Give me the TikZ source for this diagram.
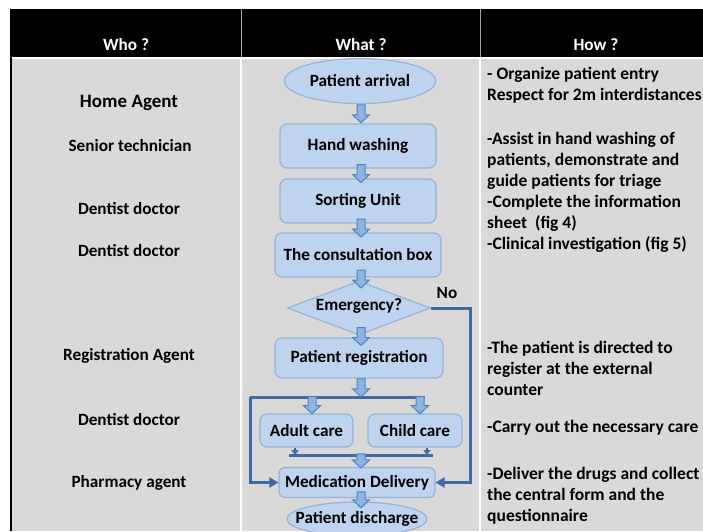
\documentclass[tikz,border=0pt]{standalone}
\usepackage{fontspec}
\setmainfont{Carlito}
\usetikzlibrary{shapes.geometric,arrows.meta,calc}
\definecolor{bodygray}{HTML}{D9D9D9}
\definecolor{boxfill}{HTML}{BDD3EE}
\definecolor{boxline}{HTML}{95B3D7}
\definecolor{flowline}{HTML}{3F6AA3}
\definecolor{arrfill}{HTML}{8EB4E3}
\definecolor{arrline}{HTML}{4F81BD}
\tikzset{
  txt/.style={font=\fontsize{17.2}{21}\selectfont\bfseries, inner sep=0pt},
  headtxt/.style={txt, text=white},
  whotxt/.style={txt, anchor=center},
  howtxt/.style={txt, font=\fontsize{17.5}{21}\selectfont\bfseries, anchor=base west, align=left},
  stepbox/.style={draw=boxline, fill=boxfill, line width=1.2pt, rounded corners=7pt,
    txt, inner sep=0pt},
  ovalbox/.style={ellipse, draw=boxline, fill=boxfill, line width=1.2pt, inner sep=0pt},
  decbox/.style={diamond, draw=boxline, fill=boxfill, line width=1.2pt, inner sep=0pt},
  blockdown/.style={draw=arrline, fill=arrfill, line width=1pt, line join=miter,
    to path={let \p1=($(\tikztostart)!0.5!(\tikztotarget)$) in
      (\x1-4pt,{\y1+0.5*#1}) -- (\x1+4pt,{\y1+0.5*#1}) -- (\x1+4pt,{\y1-0.5*#1+8pt})
      -- (\x1+8.5pt,{\y1-0.5*#1+8pt}) -- (\x1,{\y1-0.5*#1}) -- (\x1-8.5pt,{\y1-0.5*#1+8pt})
      -- (\x1-4pt,{\y1-0.5*#1+8pt}) -- cycle}},
  blockdown/.default=18pt,
  flow/.style={draw=flowline, line width=3pt},
  flowarrow/.style={flow, -{Triangle[length=9pt,width=10pt]}},
  smallarrow/.style={draw=flowline, line width=2pt, -{Triangle[length=5pt,width=7pt]}}
}
\begin{document}
\begin{tikzpicture}[x=1pt,y=-1pt]
\useasboundingbox (0,0) rectangle (703,531);
% table background
\fill[white] (0,0) rectangle (703,531);
\fill[black] (10,9) rectangle (703,57);
\fill[bodygray] (12,59) rectangle (703,531);
\fill[black] (10,9) rectangle (12,531);
\fill[white] (240,59) rectangle (242,531);
\fill[white] (479,59) rectangle (481,531);
\draw[gray!70, line width=1pt] (241,9) -- (241,57);
\draw[gray!70, line width=1pt] (480,9) -- (480,57);
% header
\node[headtxt] (hwho) at (126,45) {Who ?};
\node[headtxt] (hwhat) at (361,45) {What ?};
\node[headtxt] (hhow) at (596,45) {How ?};
% who column
\node[whotxt, font=\fontsize{19}{23}\selectfont\bfseries] (w1) at (129,103) {Home Agent};
\node[whotxt] (w2) at (130,146) {Senior technician};
\node[whotxt] (w3) at (129,209) {Dentist doctor};
\node[whotxt] (w4) at (129,251) {Dentist doctor};
\node[whotxt] (w5) at (129,356) {Registration Agent};
\node[whotxt] (w6) at (129,420) {Dentist doctor};
\node[whotxt] (w7) at (129,483) {Pharmacy agent};
% how column (anchor = baseline of last line)
\node[howtxt] (h1) at (487,100) {- Organize patient entry\\Respect for 2m interdistances};
\node[howtxt] (h2) at (487,249) {-Assist in hand washing of\\patients, demonstrate and\\guide patients for triage\\-Complete the information\\sheet~ (fig 4)\\-Clinical investigation (fig 5)};
\node[howtxt] (h3) at (487,395) {-The patient is directed to\\register at the external\\counter};
\node[howtxt] (h4) at (487,432) {-Carry out the necessary care};
\node[howtxt] (h5) at (487,521) {-Deliver the drugs and collect\\the central form and the\\questionnaire};
% flow nodes
\node[ovalbox, minimum width=151pt, minimum height=45pt, label={[txt]center:Patient arrival}] (pa) at (360,81) {};
\node[stepbox, minimum width=156pt, minimum height=44pt] (hw) at (358,146) {Hand washing};
\node[stepbox, minimum width=156pt, minimum height=44pt] (su) at (358,201) {Sorting Unit};
\node[stepbox, minimum width=166pt, minimum height=44pt] (cb) at (358,255) {The consultation box};
\node[decbox, minimum width=143pt, minimum height=54pt, label={[txt,yshift=2pt]center:Emergency?}] (em) at (359,308) {};
\node[stepbox, minimum width=168pt, minimum height=40pt] (pr) at (359,358) {Patient registration};
\node[stepbox, minimum width=93pt, minimum height=33pt] (ac) at (306.5,430.5) {Adult care};
\node[stepbox, minimum width=94pt, minimum height=33pt] (cc) at (415,430.5) {Child care};
\node[stepbox, minimum width=156pt, minimum height=30pt, rounded corners=6pt] (md) at (357,482.5) {Medication Delivery};
\node[ovalbox, minimum width=140pt, minimum height=34pt, label={[txt]center:Patient discharge}] (pd) at (357,519) {};
\node[txt] (no) at (447,293) {No};
% coordinates
\coordinate (fx) at (361,0);
\coordinate (sl) at (250,397);
\coordinate (sr) at (425,397);
\coordinate (sm) at (361,397);
\coordinate (ta) at (312,397);
\coordinate (tc) at (420,397);
\coordinate (jl) at (289,455);
\coordinate (jr) at (433,455);
\coordinate (jm) at (361,455);
\coordinate (ja) at (295,455);
\coordinate (jc) at (427,455);
\coordinate (nr) at (470,308);
% lines
\draw[flow] (sr) -- (sl);
\draw[flowarrow] (sl) |- (md.west);
\draw[flowarrow] (em.east) -- (nr) |- (md.east);
\draw[flow] (jl) -- (jr);
\draw[smallarrow] (ja |- ac.south) -- (ja);
\draw[smallarrow] (jc |- cc.south) -- (jc);
% block arrows
\draw[blockdown] (fx |- pa.south) to (fx |- hw.north);
\draw[blockdown] (fx |- hw.south) to (fx |- su.north);
\draw[blockdown] (fx |- su.south) to (fx |- cb.north);
\draw[blockdown] (fx |- cb.south) to (fx |- em.north);
\draw[blockdown] (fx |- em.south) to (fx |- pr.north);
\draw[blockdown] (fx |- pr.south) to (sm);
\draw[blockdown=17pt] (ta) to (ta |- ac.north);
\draw[blockdown=17pt] (tc) to (tc |- cc.north);
\draw[blockdown=14pt] (jm) to (jm |- md.north);
\draw[blockdown=16pt] (jm |- md.south) to (jm |- pd.north);
\end{tikzpicture}
\end{document}
